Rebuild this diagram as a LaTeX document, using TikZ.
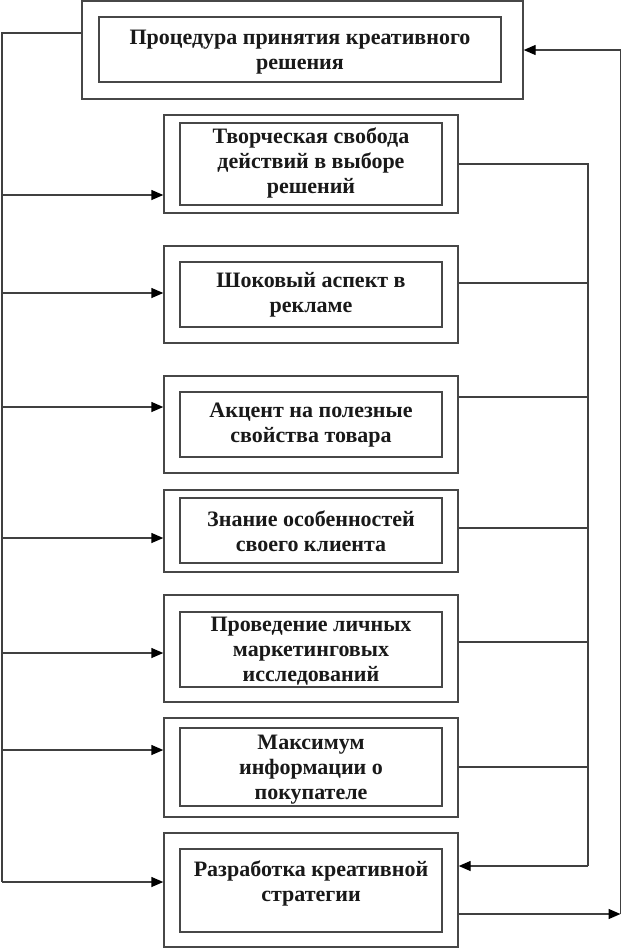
\documentclass[tikz,border=0pt]{standalone}
\usepackage{fontspec}
\setmainfont{Liberation Serif}
\usetikzlibrary{arrows.meta}
\tikzset{
  frame/.style={draw=black!72, line width=1.4pt, rectangle, inner sep=0pt},
  label/.style={font=\fontsize{22}{25}\selectfont\bfseries, align=center, text=black!90, inner sep=0pt},
  wire/.style={draw=black!75, line width=1.4pt},
  arr/.style={wire, -{Triangle[length=12pt,width=10pt,color=black]}}
}
\begin{document}
\begin{tikzpicture}[x=1pt,y=-1pt]
\useasboundingbox[fill=white] (0,0) rectangle (622,948);
% outer boxes
\node[frame, minimum width=441pt, minimum height=98pt] (b1) at (302.5,50) {};
\node[frame, minimum width=402pt, minimum height=65pt] (i1) at (300,49.5) {};
\node[frame, minimum width=294pt, minimum height=98pt] (b2) at (311,164) {};
\node[frame, minimum width=262pt, minimum height=82pt] (i2) at (311,164) {};
\node[frame, minimum width=294pt, minimum height=97pt] (b3) at (311,294.5) {};
\node[frame, minimum width=262pt, minimum height=65pt] (i3) at (311,294.5) {};
\node[frame, minimum width=294pt, minimum height=97pt] (b4) at (311,424.5) {};
\node[frame, minimum width=262pt, minimum height=65pt] (i4) at (311,424.5) {};
\node[frame, minimum width=294pt, minimum height=82pt] (b5) at (311,531) {};
\node[frame, minimum width=262pt, minimum height=65pt] (i5) at (311,530.5) {};
\node[frame, minimum width=294pt, minimum height=107pt] (b6) at (311,648.5) {};
\node[frame, minimum width=262pt, minimum height=75pt] (i6) at (311,649.5) {};
\node[frame, minimum width=294pt, minimum height=99pt] (b7) at (311,767.5) {};
\node[frame, minimum width=262pt, minimum height=78pt] (i7) at (311,767) {};
\node[frame, minimum width=294pt, minimum height=114pt] (b8) at (311,890) {};
\node[frame, minimum width=262pt, minimum height=83pt] (i8) at (311,890.5) {};
% texts
\node[label] (t1) at (300,52) {Процедура принятия креативного\\решения};
\node[label] (t2) at (311,163) {Творческая свобода\\действий в выборе\\решений};
\node[label] (t3) at (311,295) {Шоковый аспект в\\рекламе};
\node[label] (t4) at (311,425) {Акцент на полезные\\свойства товара};
\node[label] (t5) at (311,531) {Знание особенностей\\своего клиента};
\node[label] (t6) at (311,651) {Проведение личных\\маркетинговых\\исследований};
\node[label] (t7) at (311,770) {Максимум\\информации о\\покупателе};
\node[label] (t8) at (311,883) {Разработка креативной\\стратегии};
% left trunk
\coordinate (lt) at (2,33);
\coordinate (lb) at (2,882);
\draw[wire] (lt -| b1.west) -- (lt) -- (lb);
\coordinate (l2) at (2,195);
\coordinate (l3) at (2,293);
\coordinate (l4) at (2,407);
\coordinate (l5) at (2,538);
\coordinate (l6) at (2,653);
\coordinate (l7) at (2,750);
\draw[arr] (l2) -- (l2 -| b2.west);
\draw[arr] (l3) -- (l3 -| b3.west);
\draw[arr] (l4) -- (l4 -| b4.west);
\draw[arr] (l5) -- (l5 -| b5.west);
\draw[arr] (l6) -- (l6 -| b6.west);
\draw[arr] (l7) -- (l7 -| b7.west);
\draw[arr] (lb) -- (lb -| b8.west);
% inner right trunk
\coordinate (r2) at (588,164);
\coordinate (r3) at (588,283);
\coordinate (r4) at (588,397);
\coordinate (r5) at (588,528);
\coordinate (r6) at (588,642);
\coordinate (r7) at (588,767);
\coordinate (r8) at (588,866);
\draw[wire] (r2 -| b2.east) -- (r2) -- (r8);
\draw[wire] (r3 -| b3.east) -- (r3);
\draw[wire] (r4 -| b4.east) -- (r4);
\draw[wire] (r5 -| b5.east) -- (r5);
\draw[wire] (r6 -| b6.east) -- (r6);
\draw[wire] (r7 -| b7.east) -- (r7);
\draw[arr] (r8) -- (r8 -| b8.east);
% outer right trunk
\coordinate (ob) at (620.5,914);
\coordinate (ot) at (620.5,50);
\draw[arr] (ob -| b8.east) -- (ob);
\draw[wire] (ob) -- (ot);
\draw[arr] (ot) -- (ot -| b1.east);
\end{tikzpicture}
\end{document}
